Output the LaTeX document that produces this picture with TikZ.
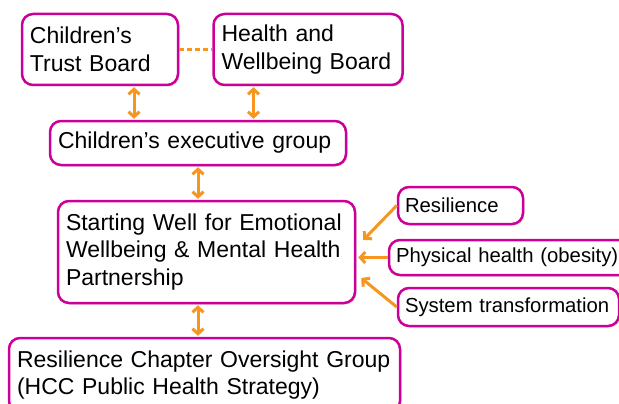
\documentclass[tikz,border=0pt]{standalone}
\usepackage{fontspec}
\setmainfont{Liberation Sans}
\usetikzlibrary{positioning,arrows.meta,shadows}
\definecolor{boxpink}{RGB}{204,0,153}
\definecolor{linkorange}{RGB}{247,150,30}

\begin{document}
\begin{tikzpicture}[x=1pt,y=-1pt,
  box/.style={draw=boxpink, line width=2.5pt, rounded corners=11pt, fill=white,
    align=left, inner xsep=8pt, inner ysep=4pt, font=\fontsize{23}{27.5}\selectfont,
    drop shadow={shadow xshift=1.5pt,shadow yshift=-1.5pt,opacity=0.25}},
  sidebox/.style={box, inner xsep=7pt, font=\fontsize{20.3}{24}\selectfont},
  link/.style={draw=linkorange, line width=3pt, shorten <=1pt, shorten >=1pt,
    {Straight Barb[length=5pt,width=11pt]}-{Straight Barb[length=5pt,width=11pt]}},
  feed/.style={draw=linkorange, line width=3pt,
    -{Straight Barb[length=5pt,width=11pt]}}]
   \useasboundingbox (0,0) rectangle (619,404);
   % boards at the top
   \node[box, text width=140pt, minimum height=71pt] (trust) at (100,49.5) {Children’s\\Trust Board};
   \node[box, text width=173pt, minimum height=71pt] (hwb) [right=33pt of trust] {Health and\\Wellbeing Board};
   \node[box, text width=280pt, minimum height=44pt] (exec) at (198,143) {Children’s executive group};
   \node[box, text width=281pt, minimum height=102pt] (well) at (206.5,252) {Starting Well for Emotional\\Wellbeing \& Mental Health\\Partnership};
   \node[box, text width=375pt, minimum height=74pt] (chapter) at (204.5,375) {Resilience Chapter Oversight Group\\(HCC Public Health Strategy)};
   % themes feeding the partnership
   \node[sidebox, text width=111pt, minimum height=37pt] (resil) at (460.5,205.5) {Resilience};
   \node[sidebox, text width=232pt, minimum height=35pt] (phys) at (512,257.5) {Physical health (obesity)};
   \node[sidebox, text width=207pt, minimum height=38pt] (sys) at (508.5,307) {System transformation};

   \draw[linkorange, line width=2.5pt, dash pattern=on 5pt off 3pt] (trust) -- (hwb);
   \draw[link] ([xshift=34pt]trust.south) -- ([xshift=34pt]trust.south |- exec.north);
   \draw[link] ([xshift=-54.5pt]hwb.south) -- ([xshift=-54.5pt]hwb.south |- exec.north);
   \draw[link] (exec.south) -- (exec.south |- well.north);
   \draw[link] (exec.south |- well.south) -- (exec.south |- chapter.north);
   \draw[feed] (resil.west) -- ([xshift=7pt,yshift=12pt]well.east);
   \draw[feed] (phys.west) -- ([xshift=2pt]phys.west -| well.east);
   \draw[feed] (sys.west) -- ([xshift=5pt,yshift=-26pt]well.east);
\end{tikzpicture}
\end{document}
